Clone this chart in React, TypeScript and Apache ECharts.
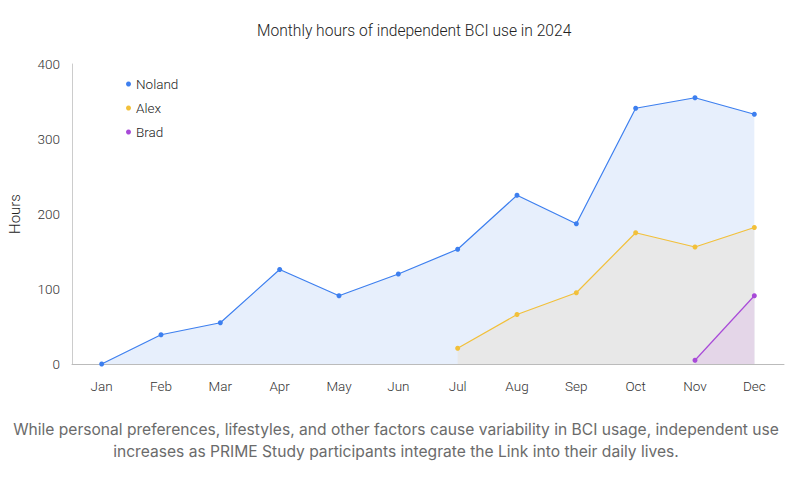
import React, { useEffect, useRef } from "react";
import * as echarts from "echarts";

const months = ["Jan", "Feb", "Mar", "Apr", "May", "Jun", "Jul", "Aug", "Sep", "Oct", "Nov", "Dec"];
const noland = [0, 39, 55, 126, 91, 120, 153, 225, 187, 341, 355, 333];
const alex = [null, null, null, null, null, null, 21, 66, 95, 175, 156, 182];
const brad = [null, null, null, null, null, null, null, null, null, null, 5, 91];
const yTicks = [0, 100, 200, 300, 400];
const captionLines = [
  "While personal preferences, lifestyles, and other factors cause variability in BCI usage, independent use",
  "increases as PRIME Study participants integrate the Link into their daily lives.",
];

export default function App() {
  const ref = useRef<HTMLDivElement>(null);
  useEffect(() => {
    if (!ref.current) return;
    const chart = echarts.init(ref.current, null, { renderer: "svg" });
    const mk = (name: string, data: any[], line: string, fill: string, z: number) => ({
      name,
      type: "line",
      data,
      z,
      connectNulls: false,
      symbol: "circle",
      symbolSize: 5,
      showSymbol: true,
      itemStyle: { color: line },
      lineStyle: { color: line, width: 1.2 },
      areaStyle: { color: fill, opacity: 1 },
      emphasis: { disabled: true },
    });
    chart.setOption({
      animation: false,
      textStyle: { fontFamily: "Roboto" },
      title: {
        text: "Monthly hours of independent BCI use in 2024",
        left: 252,
        top: 18,
        textStyle: { fontFamily: "Roboto", fontSize: 15.6, fontWeight: 300, color: "#222" },
      },
      legend: {
        orient: "vertical",
        left: 121,
        top: 72,
        itemGap: 10,
        icon: "circle",
        itemWidth: 5,
        itemHeight: 5,
        textStyle: { fontFamily: "Roboto", fontSize: 13.5, fontWeight: 300, color: "#222" },
        data: ["Noland", "Alex", "Brad"],
      },
      grid: { left: 72, right: 4, top: 64, bottom: 115, containLabel: false, outerBoundsMode: "none" },
      xAxis: {
        type: "category",
        data: months,
        boundaryGap: true,
        axisLine: { lineStyle: { color: "#bbb" } },
        axisTick: { show: false },
        axisLabel: { fontFamily: "Roboto", fontSize: 13.5, fontWeight: 300, color: "#333", margin: 15 },
      },
      yAxis: {
        type: "value",
        min: yTicks[0],
        max: yTicks[yTicks.length - 1],
        interval: 100,
        name: "Hours",
        nameLocation: "middle",
        nameGap: 50,
        nameTextStyle: { fontFamily: "Roboto", fontSize: 15, fontWeight: 300, color: "#222" },
        axisLine: { show: true, lineStyle: { color: "#ccc" } },
        axisTick: { show: false },
        splitLine: { show: false },
        axisLabel: { fontFamily: "Roboto", fontSize: 13.5, fontWeight: 300, color: "#333", margin: 12 },
      },
      series: [
        mk("Noland", noland, "#3d7fef", "#e7effc", 2),
        mk("Alex", alex, "#f2c03a", "#e8e8e8", 3),
        mk("Brad", brad, "#a84ad8", "#e4d6e8", 4),
      ],
      graphic: captionLines.map((t, i) => ({
        type: "text",
        x: 396,
        y: 421 + i * 22,
        style: { text: t, font: '15.6px "Inter"', fill: "#6b6b6b", align: "center", verticalAlign: "top" },
      })),
    });
    return () => chart.dispose();
  }, []);
  return (
    <div
      ref={ref}
      style={{ position: "fixed", left: 0, top: 0, width: 788, height: 479, background: "#fff" }}
    />
  );
}
